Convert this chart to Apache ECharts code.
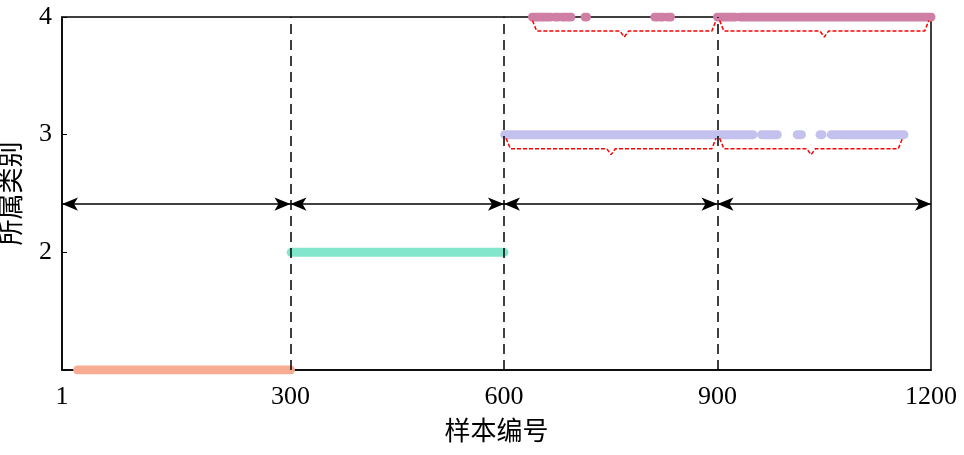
<!DOCTYPE html><html><head><meta charset="utf-8"><script src="https://cdn.jsdelivr.net/npm/echarts@6/dist/echarts.min.js"></script></head><body style="margin:0"><div id="c" style="width:964px;height:455px"></div><script>
const xTicks=[-21,300,600,900,1200];
const xTickLabels=['1','300','600','900','1200'];
const class1Runs=[[1,300]];
const class2Runs=[[301,600]];
const class3Runs=[[601,950],[962,984],[1012,1018],[1044,1047],[1060,1070],[1074,1162]];
const class4Runs=[[640,665],[672,676],[682,686],[690,694],[714,716],[812,815],[820,823],[830,834],[900,925],[932,1200]];
const braces=[[640,898,4,'21个',800],[903,1197,4,'217个',1073],[603,898,3,'279个',750],[903,1160,3,'83个',1048]];
const periods=[[-21,300,'时间段1'],[300,600,'时间段2'],[600,900,'时间段3'],[900,1200,'时间段4']];
const F='"Liberation Serif","Times New Roman","Noto Sans CJK SC",serif';
const FS=26;
const series=[];
function runs(rs,y,color){rs.forEach(r=>series.push({type:'line',data:[[r[0],y],[r[1],y]],symbol:'none',lineStyle:{color,width:9,cap:'round'},silent:true,z:3}));}
runs(class1Runs,1,'#f8ad93');runs(class2Runs,2,'#82e6cc');runs(class3Runs,3,'#c5c1ef');runs(class4Runs,4,'#d07fa4');
braces.forEach(b=>{const [a,e,y,t,lx]=b;const m=(a+e)/2;
series.push({type:'line',data:[[a,y-0.03],[a+6,y-0.12],[m-6,y-0.12],[m,y-0.17],[m+6,y-0.12],[e-6,y-0.12],[e,y-0.03]],symbol:'none',lineStyle:{color:'#f00',width:1.5,type:[4,2]},z:4});
series.push({type:'scatter',data:[[lx,y-0.31]],symbolSize:1,itemStyle:{opacity:0},label:{show:true,position:'inside',formatter:t,color:'#000',fontSize:FS,fontFamily:F},z:5});});
series.push({type:'line',data:[],markLine:{silent:true,symbol:'none',label:{show:false},lineStyle:{color:'#000',type:[10,6],width:1.5},data:[{xAxis:300},{xAxis:600},{xAxis:900}]}});
series.push({type:'line',data:[],markLine:{silent:true,symbol:['arrow','arrow'],symbolSize:[10,16],label:{show:false},lineStyle:{color:'#000',type:'solid',width:1.5},
 data:periods.map(p=>[{coord:[p[0],2.41]},{coord:[p[1],2.41]}])},z:6});
series.push({type:'scatter',data:periods.map(p=>[(p[0]+p[1])/2,2.41,p[2]]),symbolSize:1,itemStyle:{opacity:0},z:8,
 label:{show:true,position:'inside',formatter:p=>p.data[2],color:'#000',fontSize:FS,fontFamily:F,backgroundColor:'#fff',padding:[0,3]}});
echarts.init(document.getElementById('c')).setOption({animation:false,
grid:{left:62,right:33,top:17,bottom:85,outerBoundsMode:'none',containLabel:false,show:true,borderColor:'#000',borderWidth:1.5},
xAxis:{type:'value',min:-21,max:1200,name:'样本编号',nameLocation:'middle',nameGap:50,nameTextStyle:{fontSize:FS,fontFamily:F,color:'#000'},
 splitLine:{show:false},axisLine:{onZero:false,lineStyle:{color:'#000',width:1.5}},axisTick:{show:false},
 axisLabel:{customValues:xTicks,formatter:v=>xTickLabels[xTicks.indexOf(v)]||'',fontSize:FS,fontFamily:F,color:'#000',margin:14}},
yAxis:{type:'value',min:1,max:4,interval:1,name:'所属类别',nameLocation:'middle',nameGap:36,nameTextStyle:{fontSize:FS,fontFamily:F,color:'#000'},
 splitLine:{show:false},axisLine:{onZero:false,lineStyle:{color:'#000',width:1.5}},axisTick:{show:true,inside:true,lineStyle:{color:'#000'}},
 axisLabel:{formatter:v=>v===1?'':String(v),fontSize:FS,fontFamily:F,color:'#000',margin:10}},
series});
</script></body></html>
